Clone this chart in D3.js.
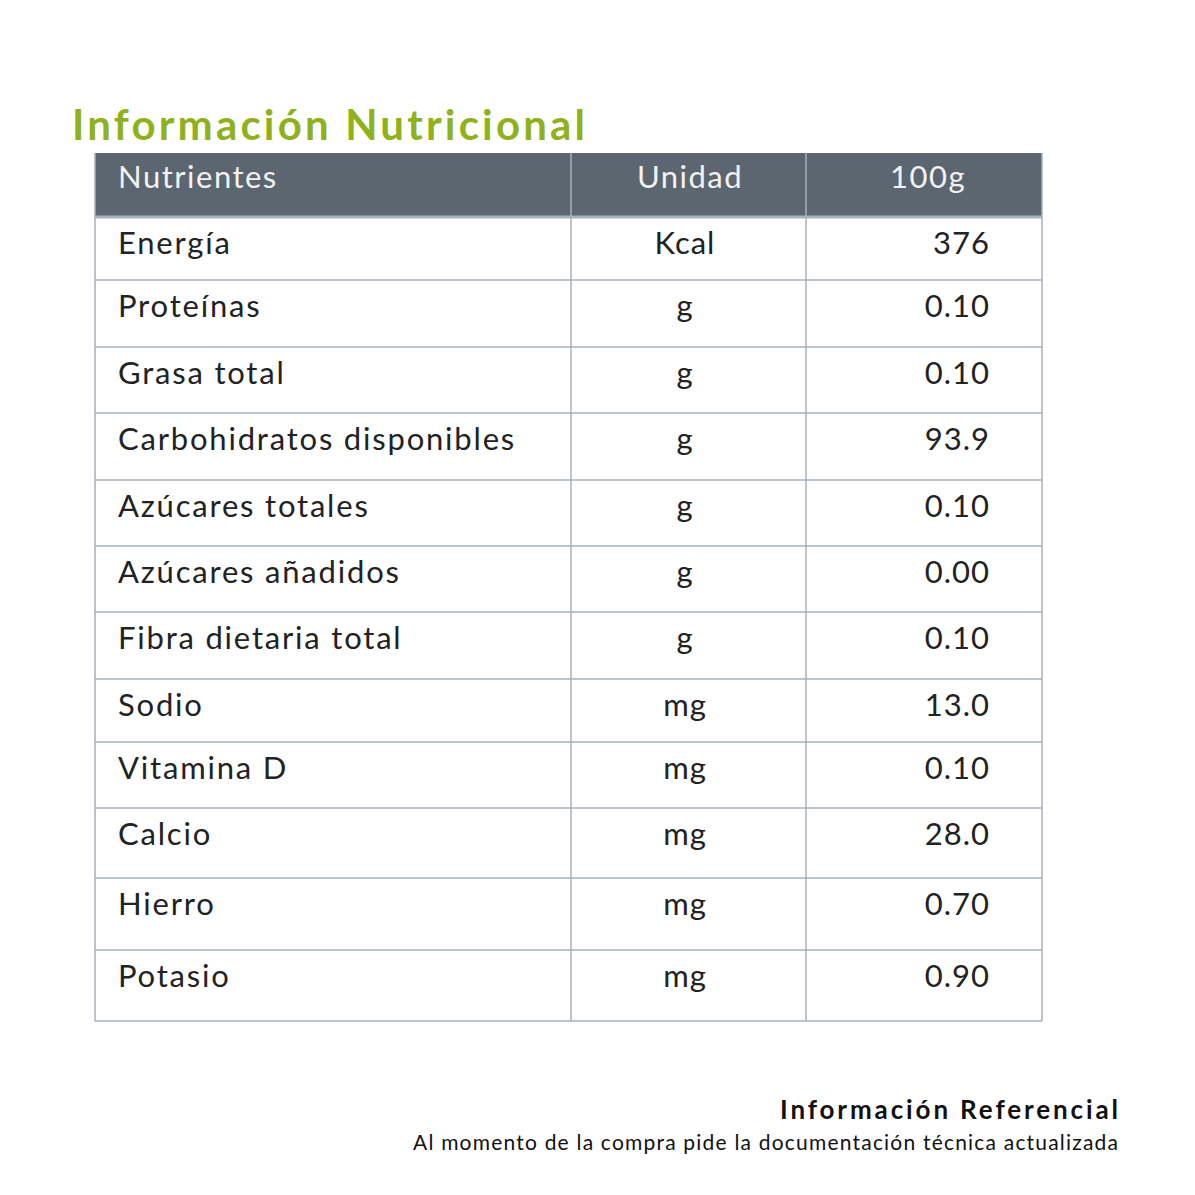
<!DOCTYPE html>
<html>
<head>
<script src="https://cdn.jsdelivr.net/npm/d3@7"></script>
<style>
  body { margin: 0; background: #fff; }
  text { font-family: "Lato", "Open Sans", sans-serif; }
</style>
</head>
<body>
<svg id="chart" width="1195" height="1195"></svg>
<script>
var headers = ["Nutrientes", "Unidad", "100g"];
var nutrients = ["Energía", "Proteínas", "Grasa total", "Carbohidratos disponibles", "Azúcares totales",
  "Azúcares añadidos", "Fibra dietaria total", "Sodio", "Vitamina D", "Calcio", "Hierro", "Potasio"];
var units = ["Kcal", "g", "g", "g", "g", "g", "g", "mg", "mg", "mg", "mg", "mg"];
var values = ["376", "0.10", "0.10", "93.9", "0.10", "0.00", "0.10", "13.0", "0.10", "28.0", "0.70", "0.90"];
// row boundaries
var rowEdges = [217, 280, 347, 413, 480, 546, 612, 679, 742, 808, 878, 950, 1021];

var svg = d3.select("#chart");
var left = 95, right = 1042, col1 = 571, col2 = 806, headTop = 153;
var lineColor = "#a9b1bb";

svg.append("text").attr("x", 72).attr("y", 140)
  .attr("font-size", 42).attr("font-weight", "bold").attr("fill", "#8fb21c")
  .attr("textLength", 513).attr("lengthAdjust", "spacing")
  .text("Información Nutricional");

// header
svg.append("rect").attr("x", left).attr("y", headTop).attr("width", right - left)
  .attr("height", rowEdges[0] - headTop).attr("fill", "#5b6670");
var hx = [118, 690, 928], ha = ["start", "middle", "middle"];
headers.forEach(function(h, i) {
  svg.append("text").attr("x", hx[i]).attr("y", 188).attr("font-size", 31)
    .attr("letter-spacing", 1.5)
    .attr("fill", "#f2f2f2").attr("text-anchor", ha[i]).text(h);
});

// grid
var g = svg.append("g").attr("stroke", lineColor).attr("stroke-width", 1.5);
g.selectAll("line.h").data(rowEdges).enter().append("line")
  .attr("x1", left).attr("x2", right).attr("y1", function(d) { return d; }).attr("y2", function(d) { return d; })
  .attr("stroke-width", function(d, i) { return i == 0 ? 3 : 1.5; });
[left, col1, col2, right].forEach(function(x) {
  g.append("line").attr("x1", x).attr("x2", x).attr("y1", headTop).attr("y2", rowEdges[rowEdges.length - 1]);
});

// rows
var rows = svg.selectAll("g.row").data(nutrients).enter().append("g")
  .attr("transform", function(d, i) { return "translate(0," + rowEdges[i] + ")"; });
rows.append("text").attr("x", 118).attr("y", 37).attr("font-size", 31).attr("fill", "#222")
  .attr("letter-spacing", 1.8)
  .text(function(d) { return d; });
rows.append("text").attr("x", 685).attr("y", 37).attr("font-size", 31).attr("fill", "#222")
  .attr("letter-spacing", 1)
  .attr("text-anchor", "middle").text(function(d, i) { return units[i]; });
rows.append("text").attr("x", 990).attr("y", 37).attr("font-size", 31).attr("fill", "#222")
  .attr("letter-spacing", 1)
  .attr("text-anchor", "end").text(function(d, i) { return values[i]; });

// footer
svg.append("text").attr("x", 780).attr("y", 1119)
  .attr("textLength", 338).attr("lengthAdjust", "spacing")
  .attr("font-size", 26).attr("font-weight", "bold").attr("fill", "#111").text("Información Referencial");
svg.append("text").attr("x", 413).attr("y", 1150)
  .attr("textLength", 705).attr("lengthAdjust", "spacing")
  .attr("font-size", 21).attr("fill", "#111").text("Al momento de la compra pide la documentación técnica actualizada");
</script>
</body>
</html>
